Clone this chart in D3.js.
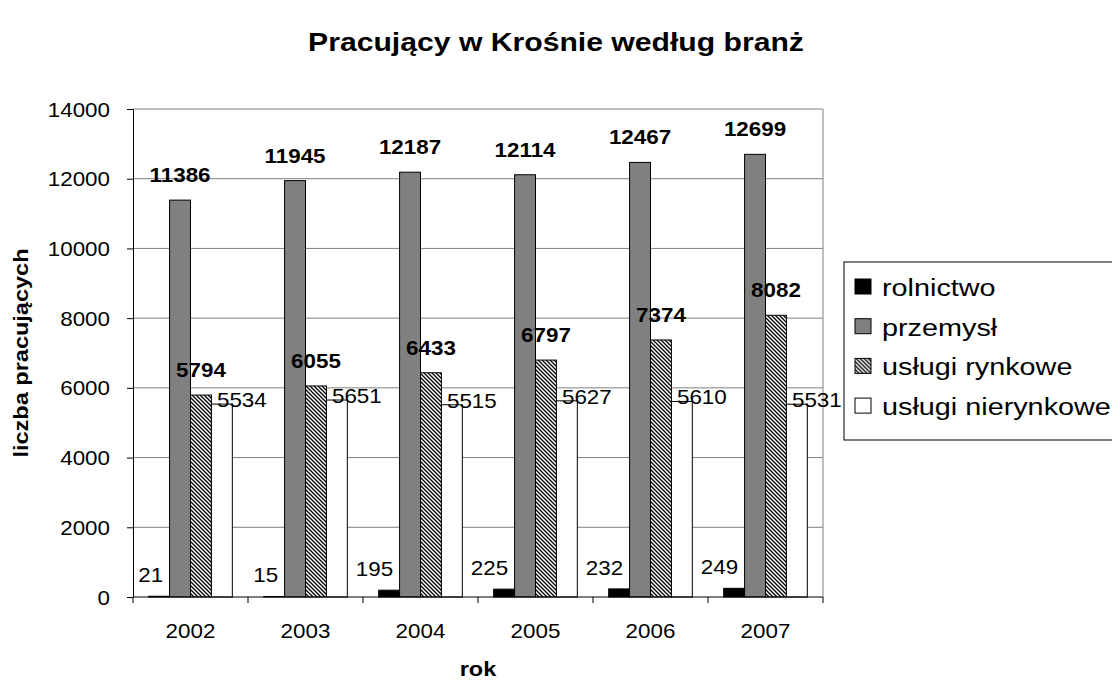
<!DOCTYPE html>
<html>
<head>
<meta charset="utf-8">
<script src="https://cdn.jsdelivr.net/npm/d3@7"></script>
<style>
  body { margin: 0; background: #fff; }
  svg { display: block; font-family: "Liberation Sans", Arial, sans-serif; }
</style>
</head>
<body>
<div id="chart"></div>
<script>
// data
const years = ["2002", "2003", "2004", "2005", "2006", "2007"];
const series = ["rolnictwo", "przemysł", "usługi rynkowe", "usługi nierynkowe"];
const rolnictwo = [21, 15, 195, 225, 232, 249];
const przemysl = [11386, 11945, 12187, 12114, 12467, 12699];
const uslugiRynkowe = [5794, 6055, 6433, 6797, 7374, 8082];
const uslugiNierynkowe = [5534, 5651, 5515, 5627, 5610, 5531];
const yTicks = [0, 2000, 4000, 6000, 8000, 10000, 12000, 14000];

const values = [rolnictwo, przemysl, uslugiRynkowe, uslugiNierynkowe];

const width = 1112, height = 682;
const plot = {left: 133, right: 823, top: 109, bottom: 597};
const SX = 1.12; // text in the original is rendered a bit wider than normal
const FS = "20px";

const svg = d3.select("#chart").append("svg")
    .attr("width", width)
    .attr("height", height);

// hatch pattern for "usługi rynkowe"
const defs = svg.append("defs");
defs.append("pattern")
    .attr("id", "hatch")
    .attr("patternUnits", "userSpaceOnUse")
    .attr("width", 4)
    .attr("height", 4)
    .call(p => {
        p.append("rect").attr("width", 4).attr("height", 4).attr("fill", "#fff");
        p.append("path")
            .attr("d", "M0,0 L4,4 M-1,3 L1,5 M3,-1 L5,1")
            .attr("stroke", "#000")
            .attr("stroke-width", 1.3);
    });

const fills = ["#000000", "#808080", "url(#hatch)", "#ffffff"];

// scales
const x0 = d3.scaleBand().domain(years).range([plot.left, plot.right]).padding(0);
const barW = x0.bandwidth() / (series.length + 1.5);
const x1 = d3.scaleBand().domain(series)
    .range([barW * 0.75, x0.bandwidth() - barW * 0.75]).padding(0);
const y = d3.scaleLinear().domain([0, 14000]).range([plot.bottom, plot.top]);

// gridlines
svg.append("g")
    .selectAll("line")
    .data(yTicks.filter(d => d > 0))
    .join("line")
    .attr("x1", plot.left).attr("x2", plot.right)
    .attr("y1", d => y(d)).attr("y2", d => y(d))
    .attr("stroke", "#808080")
    .attr("stroke-width", 1);

// right border of plot area
svg.append("line")
    .attr("x1", plot.right).attr("x2", plot.right)
    .attr("y1", plot.top).attr("y2", plot.bottom)
    .attr("stroke", "#808080");

// bars
const groups = svg.append("g")
    .selectAll("g")
    .data(years)
    .join("g")
    .attr("transform", d => `translate(${x0(d)},0)`);

groups.selectAll("rect")
    .data((yr, i) => series.map((s, j) => ({s, j, v: values[j][i]})))
    .join("rect")
    .attr("x", d => x1(d.s))
    .attr("width", x1.bandwidth())
    .attr("y", d => y(d.v))
    .attr("height", d => plot.bottom - y(d.v))
    .attr("fill", d => fills[d.j])
    .attr("stroke", "#000")
    .attr("stroke-width", 1);

// axes
const yAxis = svg.append("g")
    .attr("transform", `translate(${plot.left},0)`)
    .call(d3.axisLeft(y).tickValues(yTicks).tickSize(6).tickFormat(d3.format("d")));
yAxis.select(".domain").attr("stroke", "#000");
yAxis.selectAll(".tick line").attr("stroke", "#000");
yAxis.selectAll("text")
    .attr("x", -23 / SX)
    .attr("dy", "0.35em")
    .attr("transform", `scale(${SX},1)`)
    .style("font-size", FS)
    .style("font-family", "'Liberation Sans', Arial, sans-serif")
    .attr("fill", "#000");

const xAxis = svg.append("g")
    .attr("transform", `translate(0,${plot.bottom})`);
xAxis.append("line")
    .attr("x1", plot.left).attr("x2", plot.right)
    .attr("stroke", "#000");
xAxis.selectAll(".xtick")
    .data(years.concat(["end"]))
    .join("line")
    .attr("class", "xtick")
    .attr("x1", (d, i) => plot.left + i * x0.bandwidth())
    .attr("x2", (d, i) => plot.left + i * x0.bandwidth())
    .attr("y1", 0).attr("y2", 6)
    .attr("stroke", "#000");
xAxis.selectAll(".xlabel")
    .data(years)
    .join("text")
    .attr("class", "xlabel")
    .attr("text-anchor", "middle")
    .attr("transform", d => `translate(${x0(d) + x0.bandwidth() / 2},41) scale(${SX},1)`)
    .style("font-size", FS)
    .text(d => d);

// data labels
const labelStyle = [
    {bold: false, dx: 4, dy: -14, anchor: "end"},
    {bold: true, dx: 0, dy: -18, anchor: "middle"},
    {bold: true, dx: 0, dy: -18, anchor: "middle"},
    {bold: false, dx: 20, dy: 3, anchor: "middle"}
];
groups.selectAll("text")
    .data((yr, i) => series.map((s, j) => ({s, j, v: values[j][i]})))
    .join("text")
    .attr("text-anchor", d => labelStyle[d.j].anchor)
    .attr("transform", d => `translate(${x1(d.s) + x1.bandwidth() / 2 + labelStyle[d.j].dx},${y(d.v) + labelStyle[d.j].dy}) scale(${SX},1)`)
    .style("font-size", FS)
    .style("font-weight", d => labelStyle[d.j].bold ? "bold" : "normal")
    .text(d => d.v);

// title
svg.append("text")
    .attr("text-anchor", "middle")
    .attr("transform", `translate(556,51) scale(1.16,1)`)
    .style("font-size", "26px")
    .style("font-weight", "bold")
    .text("Pracujący w Krośnie według branż");

// axis titles
svg.append("text")
    .attr("text-anchor", "middle")
    .attr("transform", `translate(${(plot.left + plot.right) / 2},676) scale(${SX},1)`)
    .style("font-size", "21px")
    .style("font-weight", "bold")
    .text("rok");

svg.append("text")
    .attr("text-anchor", "middle")
    .attr("transform", `translate(28,${(plot.top + plot.bottom) / 2}) rotate(-90) scale(${SX},1)`)
    .style("font-size", "21px")
    .style("font-weight", "bold")
    .text("liczba pracujących");

// legend
const legend = svg.append("g").attr("transform", "translate(844,262)");
legend.append("rect")
    .attr("width", 300).attr("height", 178)
    .attr("fill", "#fff")
    .attr("stroke", "#000");
const items = legend.selectAll(".item")
    .data(series)
    .join("g")
    .attr("class", "item")
    .attr("transform", (d, i) => `translate(0,${25 + i * 39.7})`);
items.append("rect")
    .attr("x", 11).attr("y", -8)
    .attr("width", 16).attr("height", 15)
    .attr("fill", (d, i) => fills[i])
    .attr("stroke", "#000");
items.append("text")
    .attr("transform", `translate(38,9) scale(1.2,1)`)
    .style("font-size", "24px")
    .text(d => d);
</script>
</body>
</html>
